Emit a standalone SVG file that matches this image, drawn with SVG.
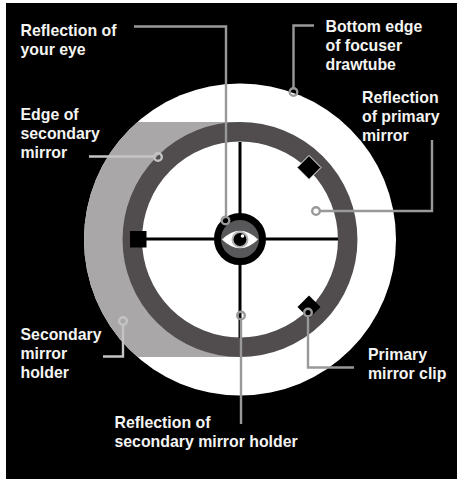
<svg xmlns="http://www.w3.org/2000/svg" width="462" height="485" viewBox="0 0 462 485">
<style>
text{font-family:"Liberation Sans",Arial,sans-serif;font-weight:700;font-size:15.85px;fill:#f4f4f2}
.l{fill:none;stroke:#999;stroke-width:2.4}
.ll{fill:none;stroke:#c4c4c4;stroke-width:2.4}
.x{stroke:#000;stroke-width:3}
</style>
<defs><clipPath id="c"><circle cx="240" cy="239.500" r="156"/></clipPath></defs>
<rect width="462" height="485" fill="#fff"/>
<rect x="6" y="3" width="451" height="476" fill="#000"/>
<g id="eyepiece-view">
<circle cx="240" cy="239.500" r="156" fill="#fff"/>
<rect x="84" y="122" width="156" height="235" fill="#a9a7a8" clip-path="url(#c)"/>
<circle cx="240" cy="239.500" r="107.700" fill="#fff" stroke="#514d4f" stroke-width="19.500"/>
<path class="x" d="M240 142V338M142 239H338"/>
</g>
<g id="clips">
<rect x="130" y="231" width="16.500" height="16.500" fill="#000"/>
<path d="M309 155.500L321 167.500L309 179.500L297 167.500Z" fill="#000" stroke="#fff" stroke-width="1"/>
<path d="M309 295.500L320.500 307L309 318.500L297.500 307Z" fill="#000"/>
</g>
<g id="eye">
<circle cx="240" cy="239" r="22.500" fill="#58585a" stroke="#000" stroke-width="7"/>
<path d="M222 239.500Q240 222 258 239.500Q240 257 222 239.500Z" fill="#fff"/>
<circle cx="240" cy="239.500" r="7.500" fill="#000" stroke="#b5b5b5" stroke-width="2"/>
<circle cx="242.500" cy="236" r="1.800" fill="#fff"/>
</g>
<g id="connectors">
<path class="l" d="M134 26.500H226V217"/>
<path class="ll" d="M89 156.500H154"/>
<path class="l" d="M314 25.500H293.500V88"/>
<path class="l" d="M432 140V211H320"/>
<path class="ll" d="M103 356.500H123V325"/>
<path class="l" d="M241 424V319"/>
<path class="l" d="M354 367.500H308V316"/>
<circle class="l" cx="225.500" cy="220.500" r="3.800"/>
<circle class="ll" cx="158" cy="157" r="3.800"/>
<circle class="l" cx="293.500" cy="92" r="3.800"/>
<circle class="l" cx="316" cy="211" r="3.800"/>
<circle class="ll" cx="123" cy="321" r="3.800"/>
<circle class="l" cx="241" cy="315.500" r="3.800"/>
<circle class="l" cx="308" cy="312.500" r="3.800"/>
</g>
<g id="labels">
<text x="20.500" y="36">Reflection of</text>
<text x="20.500" y="55">your eye</text>
<text x="20.500" y="120">Edge of</text>
<text x="20.500" y="139">secondary</text>
<text x="20.500" y="158">mirror</text>
<text x="325.500" y="32">Bottom edge</text>
<text x="325.500" y="51">of focuser</text>
<text x="325.500" y="70">drawtube</text>
<text x="362" y="103">Reflection</text>
<text x="362" y="122">of primary</text>
<text x="362" y="141">mirror</text>
<text x="20.500" y="340">Secondary</text>
<text x="20.500" y="359">mirror</text>
<text x="20.500" y="378">holder</text>
<text x="114.500" y="428">Reflection of</text>
<text x="114.500" y="447">secondary mirror holder</text>
<text x="368" y="360">Primary</text>
<text x="368" y="379">mirror clip</text>
</g>
</svg>
